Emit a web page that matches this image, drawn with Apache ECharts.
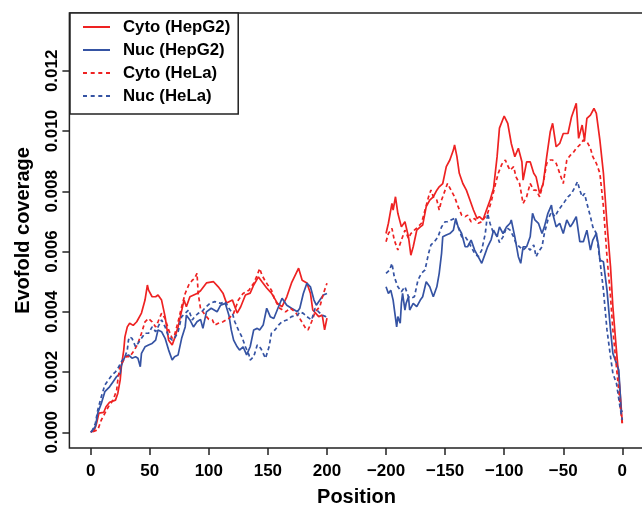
<!DOCTYPE html>
<html>
<head>
<meta charset="utf-8">
<script src="https://cdn.jsdelivr.net/npm/echarts@6/dist/echarts.min.js"></script>
<style>
  html, body { margin: 0; padding: 0; background: #fff; }
  #chart { width: 642px; height: 505px; }
</style>
</head>
<body>
<div id="chart"></div>
<script>
// data: [position, coverage x 1000]; "Start" = from the 5' end (0..200), "End" = from the 3' end (-200..0)
var cytoHepG2Start = [[0,0],[3,0.05],[5,0.3],[7,0.64],[11,0.66],[13,0.85],[16,1.0],[21,1.07],[23,1.3],[25,1.74],[26,2.18],[28,2.73],[29,3.17],[31,3.5],[33,3.62],[36,3.55],[39,3.67],[43,3.96],[46,4.39],[48,4.89],[49,4.72],[52,4.5],[55,4.5],[57,4.56],[60,4.39],[63,3.84],[66,3.06],[69,2.9],[71,3.12],[74,3.5],[79,4.39],[81,4.17],[84,4.5],[90,4.61],[93,4.7],[98,4.96],[104,5.0],[108,4.83],[112,4.62],[115,4.29],[120,4.39],[124,3.96],[127,4.17],[131,4.56],[135,4.62],[138,4.89],[142,5.16],[145,5.0],[149,4.79],[153,4.62],[158,4.29],[162,4.17],[166,4.5],[170,4.96],[176,5.45],[179,5.05],[183,4.96],[186,4.62],[188,4.06],[193,3.84],[196,3.89],[198,3.4],[200,3.79]];
var nucHepG2Start = [[0,0],[1,0.02],[4,0.19],[6,0.64],[9,0.96],[12,1.35],[16,1.51],[19,1.68],[22,1.85],[25,1.96],[26,2.23],[29,2.51],[32,2.57],[35,2.46],[38,2.51],[40,2.46],[42,2.18],[43,2.62],[46,2.84],[49,2.9],[52,2.95],[55,3.06],[57,3.4],[60,3.34],[63,3.12],[66,2.73],[69,2.4],[71,2.51],[74,2.57],[77,3.12],[80,3.5],[81,3.89],[84,3.73],[87,3.5],[90,3.67],[93,3.75],[95,3.45],[98,4.0],[102,4.12],[107,4.0],[110,4.22],[114,4.28],[117,3.89],[119,3.4],[121,3.06],[124,2.84],[126,2.73],[129,2.84],[132,2.57],[135,2.84],[138,3.4],[141,3.45],[143,3.4],[146,3.56],[149,4.12],[152,3.84],[155,3.78],[159,4.17],[162,4.45],[166,4.22],[170,4.12],[175,4.0],[177,4.12],[180,4.61],[183,4.95],[186,4.83],[189,4.39],[191,4.22],[194,4.39],[197,4.56],[200,4.61]];
var cytoHeLaStart = [[2,0.02],[6,0.08],[9,0.41],[12,0.63],[15,0.85],[19,1.07],[22,1.4],[23,1.74],[25,2.23],[28,2.4],[30,2.51],[33,2.51],[37,2.73],[40,2.95],[43,3.29],[46,3.67],[49,3.78],[52,3.67],[55,3.5],[57,3.67],[60,3.95],[63,3.78],[66,3.4],[69,3.12],[71,3.23],[74,3.67],[77,4.17],[80,4.61],[83,4.89],[86,5.05],[88,5.11],[90,5.28],[91,4.61],[93,4.1],[97,3.89],[100,3.75],[103,3.73],[105,3.56],[108,3.62],[112,3.67],[117,3.78],[121,3.95],[125,4.39],[129,4.61],[134,4.72],[138,4.95],[141,5.22],[143,5.44],[145,5.22],[148,5.0],[151,4.83],[153,4.72],[156,4.39],[160,4.12],[165,4.0],[169,4.12],[173,4.0],[177,3.78],[182,3.45],[184,3.4],[187,3.67],[190,4.0],[194,4.17],[197,4.61],[200,4.95]];
var nucHeLaStart = [[1,0.02],[4,0.3],[6,0.74],[9,1.18],[12,1.57],[15,1.74],[18,1.9],[21,2.01],[23,2.12],[26,2.34],[29,2.51],[31,2.73],[32,3.06],[33,3.17],[35,3.12],[38,2.84],[40,2.95],[43,3.12],[46,3.29],[49,3.29],[52,3.5],[55,3.34],[57,3.5],[60,3.73],[63,3.5],[66,3.17],[69,3.06],[71,3.12],[74,3.34],[77,3.84],[80,3.95],[83,4.06],[86,3.73],[88,3.84],[91,3.95],[94,4.0],[97,4.14],[101,4.28],[105,4.34],[110,4.28],[114,4.34],[117,4.12],[120,3.95],[122,3.67],[125,3.4],[128,3.17],[131,2.84],[134,2.57],[135,2.4],[138,2.51],[141,2.9],[144,2.79],[146,2.62],[148,2.46],[151,2.84],[153,3.29],[156,3.4],[159,3.56],[162,3.67],[166,3.73],[170,3.84],[175,3.89],[177,4.0],[180,3.95],[183,3.84],[187,3.73],[190,4.12],[193,4.0],[196,3.89],[199,3.84],[200,3.95]];

var cytoHepG2End = [[-200,6.6],[-198,6.94],[-195,7.6],[-194,7.38],[-192,7.82],[-190,7.27],[-187,6.82],[-184,6.99],[-181,6.49],[-179,5.88],[-177,6.16],[-174,6.71],[-171,6.82],[-169,6.88],[-166,7.49],[-163,7.71],[-160,7.82],[-157,8.04],[-155,8.15],[-152,8.26],[-149,8.82],[-146,9.04],[-143,9.37],[-142,9.54],[-140,9.15],[-138,8.6],[-135,8.26],[-132,8.04],[-129,7.71],[-126,7.38],[-123,7.1],[-121,7.16],[-118,7.05],[-115,7.38],[-112,7.7],[-109,8.1],[-106,9.15],[-104,10.1],[-100,10.5],[-97,10.26],[-94,9.59],[-91,9.15],[-88,9.43],[-85,8.98],[-84,8.37],[-81,8.98],[-78,8.98],[-75,8.6],[-73,8.48],[-70,7.93],[-67,8.26],[-64,9.15],[-61,9.98],[-59,10.26],[-56,9.48],[-53,9.59],[-50,9.92],[-46,9.92],[-43,10.47],[-39,10.92],[-37,9.76],[-34,10.2],[-32,9.7],[-30,10.42],[-27,10.53],[-24,10.75],[-22,10.59],[-19,9.7],[-16,8.6],[-13,6.94],[-10,5.5],[-8,4.17],[-5,2.73],[-2,1.4],[0,0.3]];
var nucHepG2End = [[-200,4.83],[-198,4.61],[-196,4.72],[-194,4.39],[-191,3.5],[-190,3.84],[-188,3.62],[-187,4.28],[-186,4.61],[-184,4.06],[-183,4.28],[-181,4.5],[-180,4.06],[-177,4.28],[-174,4.17],[-171,4.39],[-169,4.5],[-166,5.0],[-163,4.83],[-160,4.5],[-157,4.83],[-155,5.28],[-153,5.94],[-152,6.49],[-149,6.55],[-146,6.6],[-143,6.71],[-141,7.1],[-139,6.82],[-136,6.6],[-133,6.16],[-131,6.16],[-128,6.38],[-125,6.05],[-122,5.83],[-119,5.61],[-116,5.94],[-114,6.16],[-111,6.4],[-109,6.71],[-106,6.49],[-104,6.82],[-101,6.6],[-98,6.82],[-95,6.94],[-94,7.05],[-91,6.49],[-88,5.83],[-86,5.61],[-84,6.16],[-81,6.16],[-78,6.49],[-76,7.27],[-74,7.05],[-71,6.94],[-68,6.6],[-66,6.82],[-63,7.27],[-60,7.54],[-59,7.27],[-56,6.82],[-53,6.94],[-50,6.6],[-47,7.05],[-44,6.82],[-42,6.94],[-39,7.16],[-36,6.33],[-33,6.33],[-30,6.71],[-27,6.05],[-25,6.38],[-22,6.6],[-20,6.16],[-19,5.72],[-16,5.66],[-13,4.72],[-10,3.4],[-8,2.62],[-5,2.29],[-3,2.07],[-1,0.74],[0,0.68]];
var cytoHeLaEnd = [[-200,6.33],[-198,6.6],[-195,6.77],[-193,6.38],[-190,6.05],[-187,6.38],[-184,6.71],[-181,6.44],[-179,6.6],[-176,6.71],[-173,6.82],[-170,6.94],[-167,7.38],[-164,7.82],[-162,8.04],[-160,7.82],[-157,7.71],[-155,7.38],[-153,7.71],[-150,8.04],[-148,8.26],[-145,8.04],[-142,7.82],[-139,7.49],[-136,7.21],[-133,7.16],[-131,7.21],[-128,6.99],[-125,7.1],[-122,6.94],[-119,6.99],[-116,7.16],[-114,7.27],[-111,7.65],[-108,8.15],[-105,8.6],[-102,8.9],[-99,9.04],[-98,8.93],[-95,8.7],[-92,8.82],[-90,8.48],[-87,8.26],[-84,7.6],[-81,7.82],[-78,8.26],[-75,8.04],[-73,8.04],[-70,7.82],[-67,8.26],[-64,8.93],[-61,9.04],[-59,9.04],[-56,8.93],[-53,8.6],[-50,8.26],[-47,9.04],[-44,9.2],[-42,9.26],[-39,9.43],[-36,9.54],[-33,9.7],[-30,9.65],[-27,9.43],[-25,9.15],[-22,8.93],[-19,8.6],[-16,7.49],[-13,5.83],[-10,4.5],[-8,3.4],[-5,2.18],[-2,0.96],[0,0.24]];
var nucHeLaEnd = [[-200,5.28],[-197,5.39],[-195,5.61],[-193,5.16],[-190,4.83],[-187,4.67],[-184,4.83],[-181,4.5],[-179,4.45],[-176,4.5],[-173,5.05],[-170,5.28],[-167,5.39],[-164,5.94],[-162,6.22],[-159,6.33],[-156,6.49],[-153,6.82],[-150,6.99],[-148,6.99],[-145,7.05],[-142,7.1],[-139,6.82],[-136,6.49],[-133,6.49],[-131,6.38],[-128,6.16],[-125,5.94],[-122,5.83],[-119,6.05],[-116,6.6],[-114,7.27],[-112,6.94],[-109,6.6],[-106,6.55],[-104,6.3],[-101,6.49],[-98,6.8],[-95,6.71],[-92,6.49],[-90,6.27],[-87,6.16],[-84,6.05],[-81,6.16],[-78,6.05],[-75,6.22],[-73,5.83],[-71,5.99],[-68,6.16],[-66,6.6],[-63,7.05],[-60,7.32],[-57,7.16],[-54,7.38],[-51,7.54],[-49,7.65],[-46,7.82],[-43,7.93],[-40,8.15],[-38,8.32],[-36,8.04],[-34,7.82],[-32,7.93],[-30,7.6],[-27,7.16],[-25,6.82],[-22,6.6],[-19,5.72],[-16,4.72],[-13,3.4],[-10,2.51],[-8,1.96],[-5,1.63],[-2,0.85],[0,0.41]];

var seriesNames = ['Cyto (HepG2)', 'Nuc (HepG2)', 'Cyto (HeLa)', 'Nuc (HeLa)'];
var xTicks = [0, 50, 100, 150, 200, -200, -150, -100, -50, 0];
var yTicks = [0, 2, 4, 6, 8, 10, 12];   // x 0.001

// the 3' end block is drawn shifted right of the 5' block
var END_OFFSET = 450;
function toAxis(pos, isEnd) { return isEnd ? pos + END_OFFSET : pos; }
function shift(arr, isEnd) {
    return arr.map(function (d) { return [toAxis(d[0], isEnd), d[1]]; });
}
var xTickPos = xTicks.map(function (t, k) { return toAxis(t, k >= 5); });

var RED = '#ee2222', BLUE = '#3553a3';
var FONT = '"Liberation Sans", Arial, Helvetica, sans-serif';
var SOLID_ICON = 'path://M0,0H27V2H0Z';
var DASH_ICON = 'path://M0,0H4V2H0ZM7.7,0H11.7V2H7.7ZM15.3,0H19.3V2H15.3ZM23,0H27V2H23Z';

var styles = [
    {color: RED, type: 'solid', icon: SOLID_ICON},
    {color: BLUE, type: 'solid', icon: SOLID_ICON},
    {color: RED, type: [4, 3], icon: DASH_ICON},
    {color: BLUE, type: [4, 3], icon: DASH_ICON}
];
var startData = [cytoHepG2Start, nucHepG2Start, cytoHeLaStart, nucHeLaStart];
var endData = [cytoHepG2End, nucHepG2End, cytoHeLaEnd, nucHeLaEnd];

var series = [];
for (var i = 0; i < seriesNames.length; i++) {
    [shift(startData[i], false), shift(endData[i], true)].forEach(function (d) {
        series.push({
            name: seriesNames[i],
            type: 'line',
            data: d,
            symbol: 'none',
            animation: false,
            color: styles[i].color,
            lineStyle: {color: styles[i].color, width: 1.7, type: styles[i].type}
        });
    });
}

var chart = echarts.init(document.getElementById('chart'), null, {renderer: 'canvas'});

var option = {
    backgroundColor: '#fff',
    textStyle: {fontFamily: FONT},
    grid: {
        left: 69.4, top: 13, width: 574.2, height: 435,
        outerBoundsMode: 'none', containLabel: false,
        show: true, borderColor: '#222', borderWidth: 1.5, backgroundColor: 'transparent'
    },
    legend: {
        data: seriesNames.map(function (n, k) { return {name: n, icon: styles[k].icon}; }),
        orient: 'vertical',
        left: 70, top: 13,
        padding: [5, 8, 9, 13],
        itemGap: 5,
        itemWidth: 27, itemHeight: 2,
        backgroundColor: '#fff',
        borderColor: '#222', borderWidth: 1.5,
        textStyle: {fontSize: 16.8, fontWeight: 'bold', color: '#000', fontFamily: FONT,
                    lineHeight: 18, padding: [0, 0, 0, 8]}
    },
    xAxis: {
        type: 'value',
        min: -18, max: 468,
        name: 'Position',
        nameLocation: 'middle',
        nameGap: 39,
        nameTextStyle: {fontSize: 20, fontWeight: 'bold', color: '#000', fontFamily: FONT},
        axisLine: {show: false, onZero: false},
        splitLine: {show: false},
        axisTick: {show: true, length: 7, lineStyle: {color: '#222', width: 1.5}, customValues: xTickPos},
        axisLabel: {
            customValues: xTickPos,
            margin: 15, fontSize: 17, fontWeight: 'bold', color: '#000', fontFamily: FONT,
            formatter: function (v) {
                var p = v > 200 ? v - END_OFFSET : v;
                return p < 0 ? '\u2212' + (-p) : String(p);
            }
        }
    },
    yAxis: {
        type: 'value',
        min: -0.52, max: 13.92,
        name: 'Evofold coverage',
        nameLocation: 'middle',
        nameRotate: 90,
        nameGap: 36,
        nameTextStyle: {fontSize: 20, fontWeight: 'bold', color: '#000', fontFamily: FONT},
        axisLine: {show: false, onZero: false},
        splitLine: {show: false},
        axisTick: {show: true, length: 7, lineStyle: {color: '#222', width: 1.5}, customValues: yTicks},
        axisLabel: {
            customValues: yTicks,
            rotate: 90, margin: 9,
            fontSize: 17, fontWeight: 'bold', color: '#000', fontFamily: FONT,
            formatter: function (v) { return (v / 1000).toFixed(3); }
        }
    },
    series: series
};

chart.setOption(option);
</script>
</body>
</html>
